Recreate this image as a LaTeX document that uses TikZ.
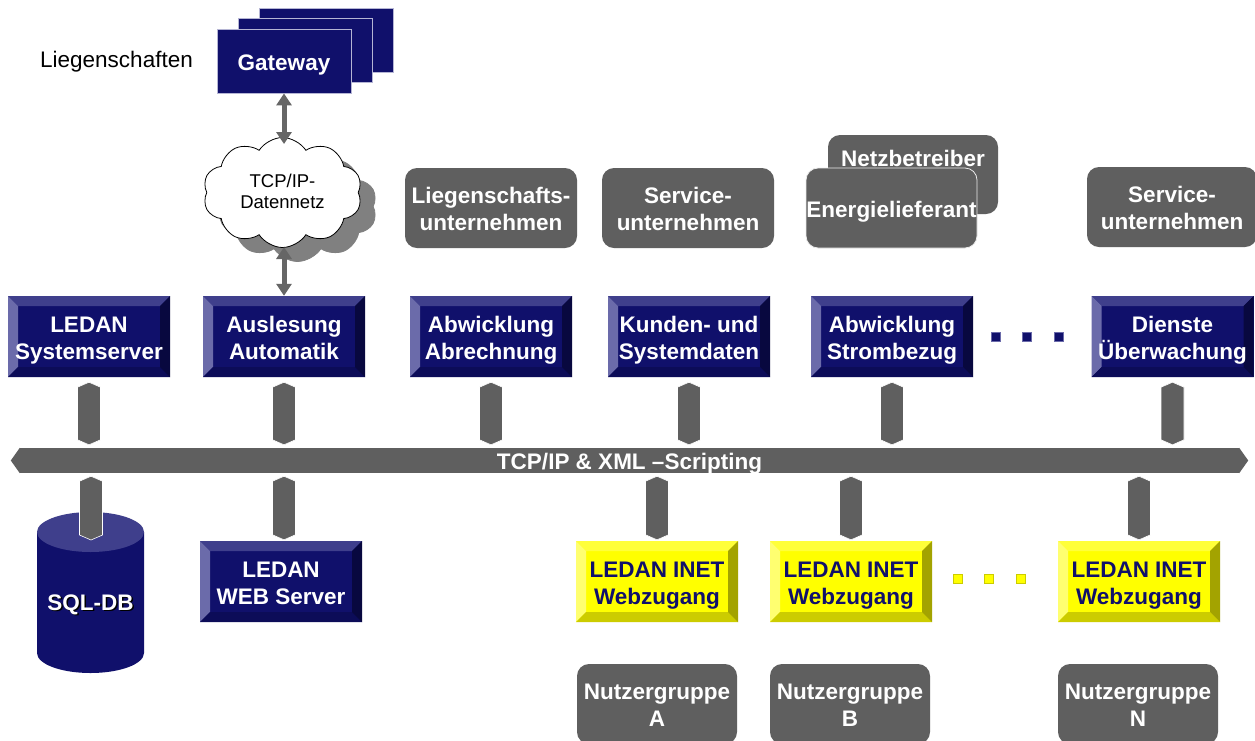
\documentclass[tikz,border=0pt]{standalone}
\usepackage{fontspec}
\setmainfont{Liberation Sans}
\usetikzlibrary{calc,shapes.symbols,arrows.meta}
\definecolor{navy}{HTML}{10106B}
\definecolor{navyT}{HTML}{3F3F8C}
\definecolor{navyL}{HTML}{6B6BAA}
\definecolor{navyB}{HTML}{0C0C58}
\definecolor{navyR}{HTML}{08083F}
\definecolor{yel}{HTML}{FFFF00}
\definecolor{yelT}{HTML}{FFFF3A}
\definecolor{yelL}{HTML}{FFFF70}
\definecolor{yelB}{HTML}{CCCC00}
\definecolor{yelR}{HTML}{A3A300}
\definecolor{grayfill}{HTML}{5F5F5F}
\definecolor{arrowgray}{HTML}{666666}
\definecolor{shadowgray}{HTML}{808080}
\newcommand\shadowtext[1]{\leavevmode\rlap{\hspace{1.5pt}\raisebox{-1.5pt}{\color{black}#1}}#1}
\newcommand\vlink[2]{%
  \path[link] let \p1=(#1), \p2=(#2) in
    (\x1,\y1) -- (\x1+11.5pt,\y1-5pt) -- (\x1+11.5pt,\y2+5pt) -- (\x1,\y2)
    -- (\x1-11.5pt,\y2+5pt) -- (\x1-11.5pt,\y1-5pt) -- cycle;}
\tikzset{
  bevelled/.style n args={4}{path picture={
    \fill[#1] (path picture bounding box.north west) -- (path picture bounding box.north east)
      -- ([shift={(-10,10)}]path picture bounding box.north east)
      -- ([shift={(10,10)}]path picture bounding box.north west) -- cycle;
    \fill[#2] (path picture bounding box.north west) -- ([shift={(10,10)}]path picture bounding box.north west)
      -- ([shift={(10,-10)}]path picture bounding box.south west)
      -- (path picture bounding box.south west) -- cycle;
    \fill[#3] (path picture bounding box.south west) -- (path picture bounding box.south east)
      -- ([shift={(-10,-10)}]path picture bounding box.south east)
      -- ([shift={(10,-10)}]path picture bounding box.south west) -- cycle;
    \fill[#4] (path picture bounding box.north east) -- (path picture bounding box.south east)
      -- ([shift={(-10,-10)}]path picture bounding box.south east)
      -- ([shift={(-10,10)}]path picture bounding box.north east) -- cycle;
  }},
  boxtext/.style={font=\bfseries\fontsize{22.5}{27}\selectfont, align=center, inner sep=0pt},
  lines1/.style={execute at begin node={\rule{0pt}{23pt}}, execute at end node={\rule[-5pt]{0pt}{5pt}}},
  lines2/.style={execute at begin node={\rule{0pt}{50pt}}, execute at end node={\rule[-5pt]{0pt}{5pt}}},
  bluebox/.style={boxtext, lines2, rectangle, minimum width=162pt, minimum height=81pt, fill=navy,
    text=white, bevelled={navyT}{navyL}{navyB}{navyR}},
  yellowbox/.style={boxtext, lines2, rectangle, minimum width=162pt, minimum height=81pt, fill=yel,
    text=navy, bevelled={yelT}{yelL}{yelB}{yelR}},
  graybox/.style={boxtext, rectangle, rounded corners=12pt, minimum width=172pt,
    minimum height=80pt, fill=grayfill, text=white},
  gwbox/.style={boxtext, lines1, rectangle, minimum width=134pt, minimum height=64pt, fill=navy,
    draw=navyL!50!white, line width=0.8pt, text=white},
  busbar/.style={rectangle, minimum width=1219pt, minimum height=25pt, inner sep=0pt,
    fill=grayfill, text=white, font=\bfseries\fontsize{22.5}{27}\selectfont},
  link/.style={fill=grayfill, draw=white, line width=0.6pt},
  biarrow/.style={draw=arrowgray, line width=5pt,
    {Triangle[width=15pt,length=12pt]}-{Triangle[width=15pt,length=12pt]}},
  dotb/.style={rectangle, minimum size=9pt, inner sep=0pt, fill=navy, draw=navyL, line width=0.6pt},
  doty/.style={rectangle, minimum size=9pt, inner sep=0pt, fill=yel, draw=yelB, line width=0.6pt},
  cloudshape/.style={cloud, cloud puffs=10, cloud puff arc=115, aspect=1.43,
    minimum width=159pt, minimum height=110pt, inner sep=0pt, line width=0.8pt},
  cloudtext/.style={font=\fontsize{18.5}{21}\selectfont, align=center,
    execute at begin node={\rule{0pt}{35pt}}, execute at end node={\rule[-4pt]{0pt}{4pt}}},
}
\begin{document}
\begin{tikzpicture}[x=1pt,y=-1pt]
\useasboundingbox (0,0) rectangle (1255,740);
\fill[white] (0,0) rectangle (1255,740);
\clip (0,0) rectangle (1255,740);

% label
\node[anchor=base west, inner sep=0pt, font=\fontsize{22.5}{27}\selectfont] (liegl) at (40,67) {Liegenschaften};

% gateway stack
\node[gwbox] (gw3) at (326,40) {};
\node[gwbox] (gw2) at (305,50.5) {};
\node[gwbox] (gw1) at (284,61) {Gateway};

% cloud
\node[cloudshape, fill=shadowgray, draw=shadowgray] (cloudsh) at (297.5,206.5) {};
\node[cloudshape, cloudtext, fill=white, draw=black] (cloud) at (282.5,192.5) {TCP/IP-\\Datennetz};

% upper gray boxes
\node[graybox, lines2] (lieg) at (491,208) {Liegenschafts-\\unternehmen};
\node[graybox, lines2] (serv1) at (688,208) {Service-\\unternehmen};
\node[graybox, minimum width=170pt, minimum height=79pt] (netz) at (913,174.5) {\smash{\raisebox{8.5pt}{Netzbetreiber}}};
\node[graybox, lines1, minimum width=171pt, draw=white!85!gray, line width=0.8pt] (energ) at (891.5,208) {Energielieferant};
\node[graybox, lines2, minimum width=170pt] (serv2) at (1172,207) {Service-\\unternehmen};

% top row blue boxes
\node[bluebox] (sys) at (89,336.5) {LEDAN\\Systemserver};
\node[bluebox] (aus) at (284,336.5) {Auslesung\\Automatik};
\node[bluebox] (abr) at (491,336.5) {Abwicklung\\Abrechnung};
\node[bluebox] (kun) at (689,336.5) {Kunden- und\\Systemdaten};
\node[bluebox] (str) at (892,336.5) {Abwicklung\\Strombezug};
\node[bluebox] (die) at (1172.5,336.5) {Dienste\\\"Uberwachung};
\node[dotb] (db1) at (995.5,336.5) {};
\node[dotb] (db2) at (1027,336.5) {};
\node[dotb] (db3) at (1058.5,336.5) {};

% arrows gateway - cloud - Auslesung
\draw[biarrow] (gw1.south) -- ([yshift=48.5pt]cloud.center -| gw1.south);
\draw[biarrow] ([yshift=-54.5pt]cloud.center -| aus.north) -- (aus.north);

% bus
\node[busbar] (bus) at (629.5,460.5) {\smash{\raisebox{-8.5pt}{TCP/IP \& XML \textendash Scripting}}};
\fill[grayfill] (bus.north west) -- ([xshift=-9pt]bus.west) -- (bus.south west) -- cycle;
\fill[grayfill] (bus.north east) -- ([xshift=9pt]bus.east) -- (bus.south east) -- cycle;

% upper links
\foreach \nm in {sys,aus,abr,kun,str,die}{
  \vlink{$(\nm.south)+(0,5)$}{$(bus.north -| \nm.south)+(0,-3)$}
}

% database cylinder
\coordinate (dbtop) at (91,540);
\fill[navy] (37,532) -- (37,653) arc[start angle=180, end angle=0, x radius=53.5, y radius=20] -- (144,532) -- cycle;
\fill[navyT] (90.5,532) ellipse [x radius=53.5, y radius=20];
\node[anchor=base, inner sep=0pt, text=white, font=\bfseries\fontsize{22.5}{27}\selectfont] (dbt) at (90.5,610) {\shadowtext{SQL-DB}};

% lower boxes
\node[bluebox] (web) at (281,581.5) {LEDAN\\WEB Server};
\node[yellowbox] (inetA) at (657,581.5) {LEDAN INET\\Webzugang};
\node[yellowbox] (inetB) at (851,581.5) {LEDAN INET\\Webzugang};
\node[yellowbox] (inetN) at (1139,581.5) {LEDAN INET\\Webzugang};
\node[doty] (dy1) at (957.5,578.5) {};
\node[doty] (dy2) at (989,578.5) {};
\node[doty] (dy3) at (1021,578.5) {};

% lower links
\vlink{$(bus.south -| dbtop)+(0,3)$}{dbtop}
\vlink{$(bus.south -| aus.south)+(0,3)$}{$(web.north -| aus.south)+(0,-1)$}
\foreach \nm in {inetA,inetB,inetN}{
  \vlink{$(bus.south -| \nm.north)+(0,3)$}{$(\nm.north)+(0,-1)$}
}

% user groups
\node[graybox, lines2, minimum width=160pt] (nutzA) at (657,704) {Nutzergruppe\\A};
\node[graybox, lines2, minimum width=160pt] (nutzB) at (850,704) {Nutzergruppe\\B};
\node[graybox, lines2, minimum width=160pt] (nutzN) at (1138,704) {Nutzergruppe\\N};
\end{tikzpicture}
\end{document}
